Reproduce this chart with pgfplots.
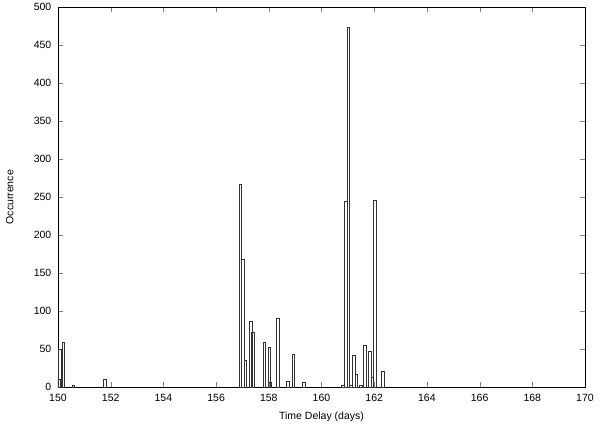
\documentclass[border=0pt]{standalone}
\usepackage{pgfplots}
\pgfplotsset{compat=1.18}
\usepackage{fontspec}
\setmainfont{Liberation Sans}
\begin{document}
\begin{tikzpicture}
\fontsize{10.5}{12}\selectfont
\begin{axis}[
  at={(0,0)}, anchor=south west,
  scale only axis, width=527pt, height=380pt,
  xmin=150, xmax=170, ymin=0, ymax=500,
  xtick={150,152,...,170}, ytick={0,50,...,500},
  tick align=inside, major tick length=5pt,
  /pgf/number format/assume math mode=true,
  /pgf/number format/1000 sep={},
  ticklabel style={font=\fontsize{10.5}{12}\selectfont},
  xticklabel style={yshift=-3pt},
  yticklabel style={xshift=-3pt},
  label style={font=\fontsize{10.5}{12}\selectfont},
  xlabel={Time Delay (days)}, ylabel={Occurrence},
  xlabel style={yshift=-3pt},
  ylabel style={yshift=13pt},
  axis line style={line width=0.6pt},
]
\addplot[ybar, bar width=0.1, draw=black!80, fill=none, line width=0.5pt] coordinates {
(150.03,10) (150.07,50) (150.2,59) (150.58,2) (151.77,11)
(156.92,267) (157.02,168) (157.11,36) (157.32,87) (157.40,72)
(157.83,59) (158.02,52) (158.04,7) (158.33,91) (158.72,8) (158.93,44) (159.32,7)
(160.80,2) (160.92,245) (161.02,474) (161.10,3) (161.22,42) (161.32,17) (161.48,3)
(161.63,55) (161.82,47) (161.93,13) (162.02,246) (162.32,21)
};
\end{axis}
\path[use as bounding box] (-58pt,-39pt) rectangle (542pt,385pt);
\end{tikzpicture}
\end{document}
